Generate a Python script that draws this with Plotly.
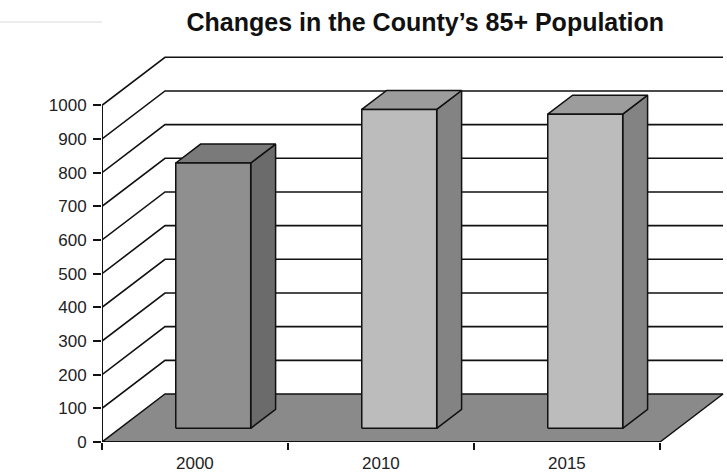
import plotly.graph_objects as go

# ---- data ----
categories = ["2000", "2010", "2015"]
values = [788, 947, 933]
y_ticks = [0, 100, 200, 300, 400, 500, 600, 700, 800, 900, 1000]
title_text = "Changes in the County\u2019s 85+ Population"

# ---- style / geometry (oblique 3D look) ----
W, H = 727, 476
ML, MB = 102, 34          # plot-area origin (front floor corner)
PX_PER_CAT = 186.0
PX_PER_VAL = 0.3367
DX = 63 / PX_PER_CAT      # depth offset in category units
DY = 48 / PX_PER_VAL      # depth offset in value units
BAR_X0, BAR_X1 = 0.30, 0.703
BAR_D0, BAR_D1 = 0.285, 0.68
front_cols = ["#8f8f8f", "#bcbcbc", "#bcbcbc"]
top_cols = ["#7a7a7a", "#9c9c9c", "#9c9c9c"]
side_cols = ["#6b6b6b", "#838383", "#838383"]
FLOOR = "#8a8a8a"
LINE = "#111111"
FONT = "Liberation Sans, Arial"

n = len(categories)
xmax = (W - ML) / PX_PER_CAT
ymax = (H - MB) / PX_PER_VAL

fig = go.Figure()

def poly(xs, ys, fill, lw=1.5):
    fig.add_trace(go.Scatter(x=xs + [xs[0]], y=ys + [ys[0]], mode="lines",
                             fill="toself", fillcolor=fill,
                             line=dict(color=LINE, width=lw),
                             hoverinfo="skip", showlegend=False))

def line(xs, ys, lw=1.6, color=LINE):
    fig.add_trace(go.Scatter(x=xs, y=ys, mode="lines",
                             line=dict(color=color, width=lw),
                             hoverinfo="skip", showlegend=False))

# gridlines on side wall + back wall
for v in y_ticks[1:]:
    line([0, DX, n + DX], [v, v + DY, v + DY])

# floor
poly([0, n, n + DX, DX], [0, 0, DY, DY], FLOOR, lw=1.5)

# front vertical axis line
line([0, 0], [0, y_ticks[-1]], lw=2)

# bars
for i, v in enumerate(values):
    fx0 = i + BAR_X0 + BAR_D0 * DX
    fx1 = i + BAR_X1 + BAR_D0 * DX
    bx0 = i + BAR_X0 + BAR_D1 * DX
    bx1 = i + BAR_X1 + BAR_D1 * DX
    yb0 = BAR_D0 * DY
    yb1 = BAR_D1 * DY
    poly([fx1, bx1, bx1, fx1], [yb0, yb1, v + yb1, v + yb0], side_cols[i])
    poly([fx0, fx1, bx1, bx0], [v + yb0, v + yb0, v + yb1, v + yb1], top_cols[i])
    poly([fx0, fx1, fx1, fx0], [yb0, yb0, v + yb0, v + yb0], front_cols[i])

# front floor edge (thick)
line([0, n], [0, 0], lw=2.2)

# category labels
for i, c in enumerate(categories):
    fig.add_annotation(x=i + 0.5, y=0, xref="x", yref="y", text=c,
                       showarrow=False, yanchor="top", yshift=-10,
                       font=dict(family=FONT, size=17, color="#222"))

plot_w = W - ML
fig.update_layout(
    width=W, height=H,
    margin=dict(l=ML, r=0, t=0, b=MB),
    paper_bgcolor="white", plot_bgcolor="white",
    showlegend=False,
    title=dict(text=f"<b>{title_text}</b>", x=0.585, xanchor="center",
               y=0.953, yanchor="middle", yref="container",
               font=dict(family=FONT, size=25, color="#111")),
    xaxis=dict(range=[0, xmax], showgrid=False, zeroline=False, showline=False,
               tickvals=[], showticklabels=False,
               minor=dict(tick0=0, dtick=1, ticks="outside", ticklen=7,
                          tickcolor=LINE, tickwidth=1.5, showgrid=False)),
    yaxis=dict(range=[0, ymax], showgrid=False, zeroline=False, showline=False,
               tickvals=y_ticks, ticks="outside", ticklen=8, tickcolor=LINE,
               tickwidth=1.5, ticklabelstandoff=3,
               tickfont=dict(family=FONT, size=17, color="#222")),
)
fig.add_shape(type="line", xref="paper", yref="paper", x0=-ML / plot_w, x1=0,
              y0=1 - 22 / (H - MB), y1=1 - 22 / (H - MB),
              line=dict(color="#dcdcdc", width=1.2))

fig.write_html("out.html")
